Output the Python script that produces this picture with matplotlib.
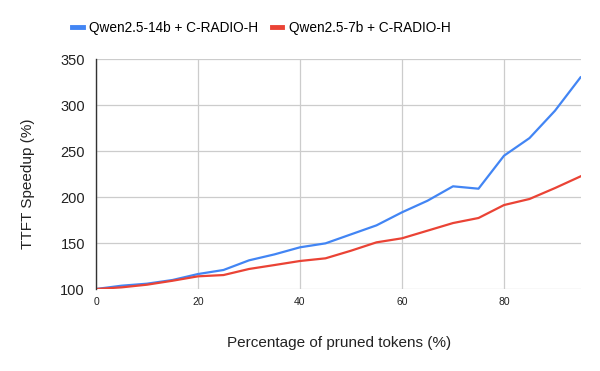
import matplotlib
matplotlib.use("Agg")
import matplotlib.pyplot as plt

plt.rcParams['font.family'] = ['Liberation Sans', 'DejaVu Sans']

pruned = [0, 5, 10, 15, 20, 25, 30, 35, 40, 45, 50, 55, 60, 65, 70, 75, 80, 85, 90, 95]
qwen14b = [100, 103.6, 105.8, 109.8, 116.3, 120.7, 131.2, 137.7, 145.4, 149.7,
           159.5, 169.3, 183.5, 196.1, 211.8, 209.2, 245.1, 264.3, 294.1, 330.4]
qwen7b = [100, 101.8, 104.7, 109.0, 113.8, 115.2, 121.8, 126.1, 130.5, 133.4,
          141.7, 150.8, 155.2, 163.5, 171.8, 177.3, 191.4, 198.0, 209.9, 222.6]
labels = ["Qwen2.5-14b + C-RADIO-H", "Qwen2.5-7b + C-RADIO-H"]
xticks = [0, 20, 40, 60, 80]
yticks = [100, 150, 200, 250, 300, 350]

fig = plt.figure(figsize=(6, 3.71), dpi=100)
ax = fig.add_axes([0.16, 0.221, 0.8075, 0.619])

ax.plot(pruned, qwen14b, color='#4285F4', lw=1.6, label=labels[0], solid_joinstyle='round')
ax.plot(pruned, qwen7b, color='#EA4335', lw=1.6, label=labels[1], solid_joinstyle='round')

ax.set_xlim(0, 95)
ax.set_ylim(100, 350)
ax.set_xticks(xticks)
ax.set_yticks(yticks)
ax.grid(True, color='#cccccc', lw=0.9)
ax.set_axisbelow(True)
for s in ['top', 'right', 'bottom']:
    ax.spines[s].set_visible(False)
ax.spines['left'].set_color('#333333')
ax.spines['left'].set_linewidth(1.0)
ax.tick_params(axis='both', length=0)
ax.tick_params(axis='y', labelsize=10.5, pad=8, labelcolor='#222222')
ax.tick_params(axis='x', labelsize=7.5, pad=6, labelcolor='#222222')

ax.set_xlabel("Percentage of pruned tokens (%)", fontsize=11, color='#222222')
ax.xaxis.label.set_va('center')
ax.xaxis.set_label_coords(0.5 + (339 - 338.25) / 484.5, (289 - 343) / 229.7)
ax.set_ylabel("TTFT Speedup (%)", fontsize=11, color='#222222')
ax.yaxis.label.set_va('center')
ax.yaxis.set_label_coords((28 - 96) / 484.5, (289 - 184) / 229.7)

fig.legend(loc='center', bbox_to_anchor=(0.436, 0.9245), ncol=2, frameon=False,
           fontsize=9.8, handlelength=0.75, handletextpad=0.5, columnspacing=1.0)
leg = fig.legends[0]
for h in leg.legend_handles:
    h.set_linewidth(3.5)

fig.savefig("out.png", dpi=100)
